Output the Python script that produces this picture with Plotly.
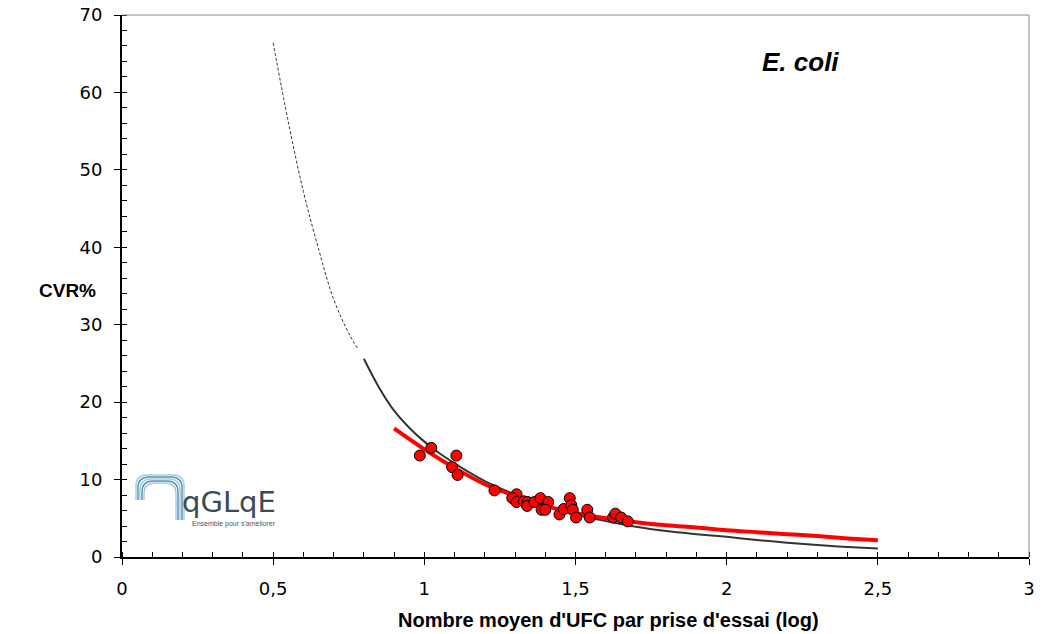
import plotly.graph_objects as go

# ---- data ----
black_dash_x = [0.50, 0.55, 0.60, 0.65, 0.70, 0.75, 0.78]
black_dash_y = [66.4, 56.2, 47.2, 39.8, 33.3, 28.9, 26.9]

black_x = [0.80, 0.85, 0.90, 0.95, 1.00, 1.05, 1.10, 1.15, 1.20, 1.25, 1.30, 1.40, 1.50,
           1.60, 1.70, 1.80, 1.90, 2.00, 2.10, 2.20, 2.30, 2.40, 2.50]
black_y = [25.6, 21.9, 18.9, 16.7, 14.9, 13.4, 12.1, 10.9, 9.8, 8.9, 8.1, 6.7, 5.45,
           4.65, 3.9, 3.35, 2.95, 2.6, 2.2, 1.85, 1.55, 1.3, 1.1]

red_x = [0.90, 1.00, 1.10, 1.20, 1.30, 1.40, 1.50, 1.60, 1.70, 1.80, 1.90, 2.00,
         2.10, 2.20, 2.30, 2.40, 2.50]
red_y = [16.6, 13.9, 11.5, 9.4, 7.9, 6.6, 5.7, 5.0, 4.5, 4.1, 3.8, 3.45,
         3.2, 2.95, 2.7, 2.4, 2.15]

pts_x = [0.985, 1.023, 1.106, 1.092, 1.110, 1.232, 1.305, 1.291, 1.305, 1.329,
         1.342, 1.340, 1.364, 1.384, 1.410, 1.388, 1.400, 1.447, 1.461, 1.481,
         1.486, 1.491, 1.502, 1.539, 1.547, 1.624, 1.632, 1.651, 1.673]
pts_y = [13.1, 14.1, 13.1, 11.6, 10.6, 8.6, 8.1, 7.6, 7.1, 7.2,
         7.1, 6.6, 7.1, 7.6, 7.1, 6.1, 6.1, 5.5, 6.2, 7.6,
         6.7, 6.1, 5.1, 6.1, 5.1, 5.1, 5.6, 5.1, 4.6]

x_ticks = [0, 0.5, 1, 1.5, 2, 2.5, 3]
y_ticks = [0, 10, 20, 30, 40, 50, 60, 70]

FONT = "Liberation Sans, Arial, sans-serif"
TICKFONT = "DejaVu Sans, sans-serif"

fig = go.Figure()
fig.add_trace(go.Scatter(x=black_dash_x, y=black_dash_y, mode="lines",
                         line=dict(color="#333333", width=1, dash="3px,2px", shape="spline"),
                         showlegend=False, hoverinfo="skip"))
fig.add_trace(go.Scatter(x=black_x, y=black_y, mode="lines",
                         line=dict(color="#333333", width=2, shape="spline"),
                         showlegend=False))
fig.add_trace(go.Scatter(x=red_x, y=red_y, mode="lines",
                         line=dict(color="#ff0000", width=4, shape="spline"),
                         showlegend=False))
fig.add_trace(go.Scatter(x=pts_x, y=pts_y, mode="markers",
                         marker=dict(color="#ff0000", size=11,
                                     line=dict(color="#000000", width=1)),
                         showlegend=False))

# page body has an 8px margin: work in screen pixels, then offset
OFF = 8
SW, SH = 1049, 634
W, H = SW - OFF, SH - OFF
# plot area in screen pixels: x 122..1029, y 15..557
L, R, T, B = 122 - OFF, SW - 1029, 15 - OFF, SH - 557
pw, ph = W - L - R, H - T - B


def px(x):
    return (x - OFF - L) / pw


def py(y):
    return (H - B - (y - OFF)) / ph


# plot-area border (top & right, gray)
shapes = [
    dict(type="line", xref="paper", yref="paper", x0=0, x1=1, y0=1, y1=1,
         line=dict(color="#8c8c8c", width=1)),
    dict(type="line", xref="paper", yref="paper", x0=1, x1=1, y0=0, y1=1,
         line=dict(color="#8c8c8c", width=1)),
]

# logo arch (decoration)
arch_cols = ["#a9cde0", "#5d93b3", "#a9cde0", "#5d93b3", "#a9cde0"]
for i, c in enumerate(arch_cols):
    o = i * 2.0
    x0, x1 = 136 + o, 184 - o
    ytop = 475 + o
    path = (f"M {px(x0)},{py(500)} L {px(x0)},{py(ytop + 11)} "
            f"Q {px(x0)},{py(ytop)} {px(x0 + 11)},{py(ytop)} "
            f"L {px(x1 - 11)},{py(ytop)} "
            f"Q {px(x1)},{py(ytop)} {px(x1)},{py(ytop + 11)} "
            f"L {px(x1)},{py(520)}")
    shapes.append(dict(type="path", xref="paper", yref="paper", path=path,
                       line=dict(color=c, width=1.5)))

annotations = [
    dict(text="<b>CVR%</b>", xref="paper", yref="paper", x=px(98), y=py(290),
         xanchor="right", yanchor="middle", showarrow=False,
         font=dict(family=FONT, size=19, color="black")),
    dict(text="<b>Nombre moyen d'UFC par prise d'essai (log)</b>", xref="paper", yref="paper",
         x=px(608), y=py(620), xanchor="center", yanchor="middle", showarrow=False,
         font=dict(family=FONT, size=20, color="black")),
    dict(text="<b><i>E. coli</i></b>", xref="paper", yref="paper", x=px(800), y=py(62),
         xanchor="center", yanchor="middle", showarrow=False,
         font=dict(family=FONT, size=26, color="black")),
    dict(text="qGLqE", xref="paper", yref="paper", x=px(180), y=py(502),
         xanchor="left", yanchor="middle", showarrow=False,
         font=dict(family="DejaVu Sans", size=29, color="#3d4a54")),
    dict(text="Ensemble pour s'améliorer", xref="paper", yref="paper", x=px(190), y=py(524),
         xanchor="left", yanchor="middle", showarrow=False,
         font=dict(family=FONT, size=7, color="#555555")),
]

fig.update_layout(
    width=W, height=H,
    margin=dict(l=L, r=R, t=T, b=B, pad=0, autoexpand=False),
    paper_bgcolor="white", plot_bgcolor="white",
    separators=", ",
    font=dict(family=FONT, size=17, color="black"),
    shapes=shapes, annotations=annotations,
    xaxis=dict(range=[0, 3], tickvals=x_ticks, showgrid=False, zeroline=False,
               automargin=False, ticklabeloverflow="allow",
               showline=True, linecolor="black", linewidth=2,
               ticks="outside", ticklen=6, tickwidth=1, tickcolor="black",
               tickfont=dict(family=TICKFONT, size=18, color="black"),
               ticklabelstandoff=8,
               minor=dict(dtick=0.1, ticks="inside", ticklen=5, tickwidth=1,
                          tickcolor="black", showgrid=False)),
    yaxis=dict(range=[0, 70], tickvals=y_ticks, showgrid=False, zeroline=False,
               automargin=False, ticklabeloverflow="allow",
               showline=True, linecolor="black", linewidth=2,
               ticks="outside", ticklen=6, tickwidth=1, tickcolor="black",
               tickfont=dict(family=TICKFONT, size=18, color="black"),
               ticklabelstandoff=8,
               minor=dict(dtick=2, ticks="inside", ticklen=5, tickwidth=1,
                          tickcolor="black", showgrid=False)),
)

fig.write_html("out.html")
